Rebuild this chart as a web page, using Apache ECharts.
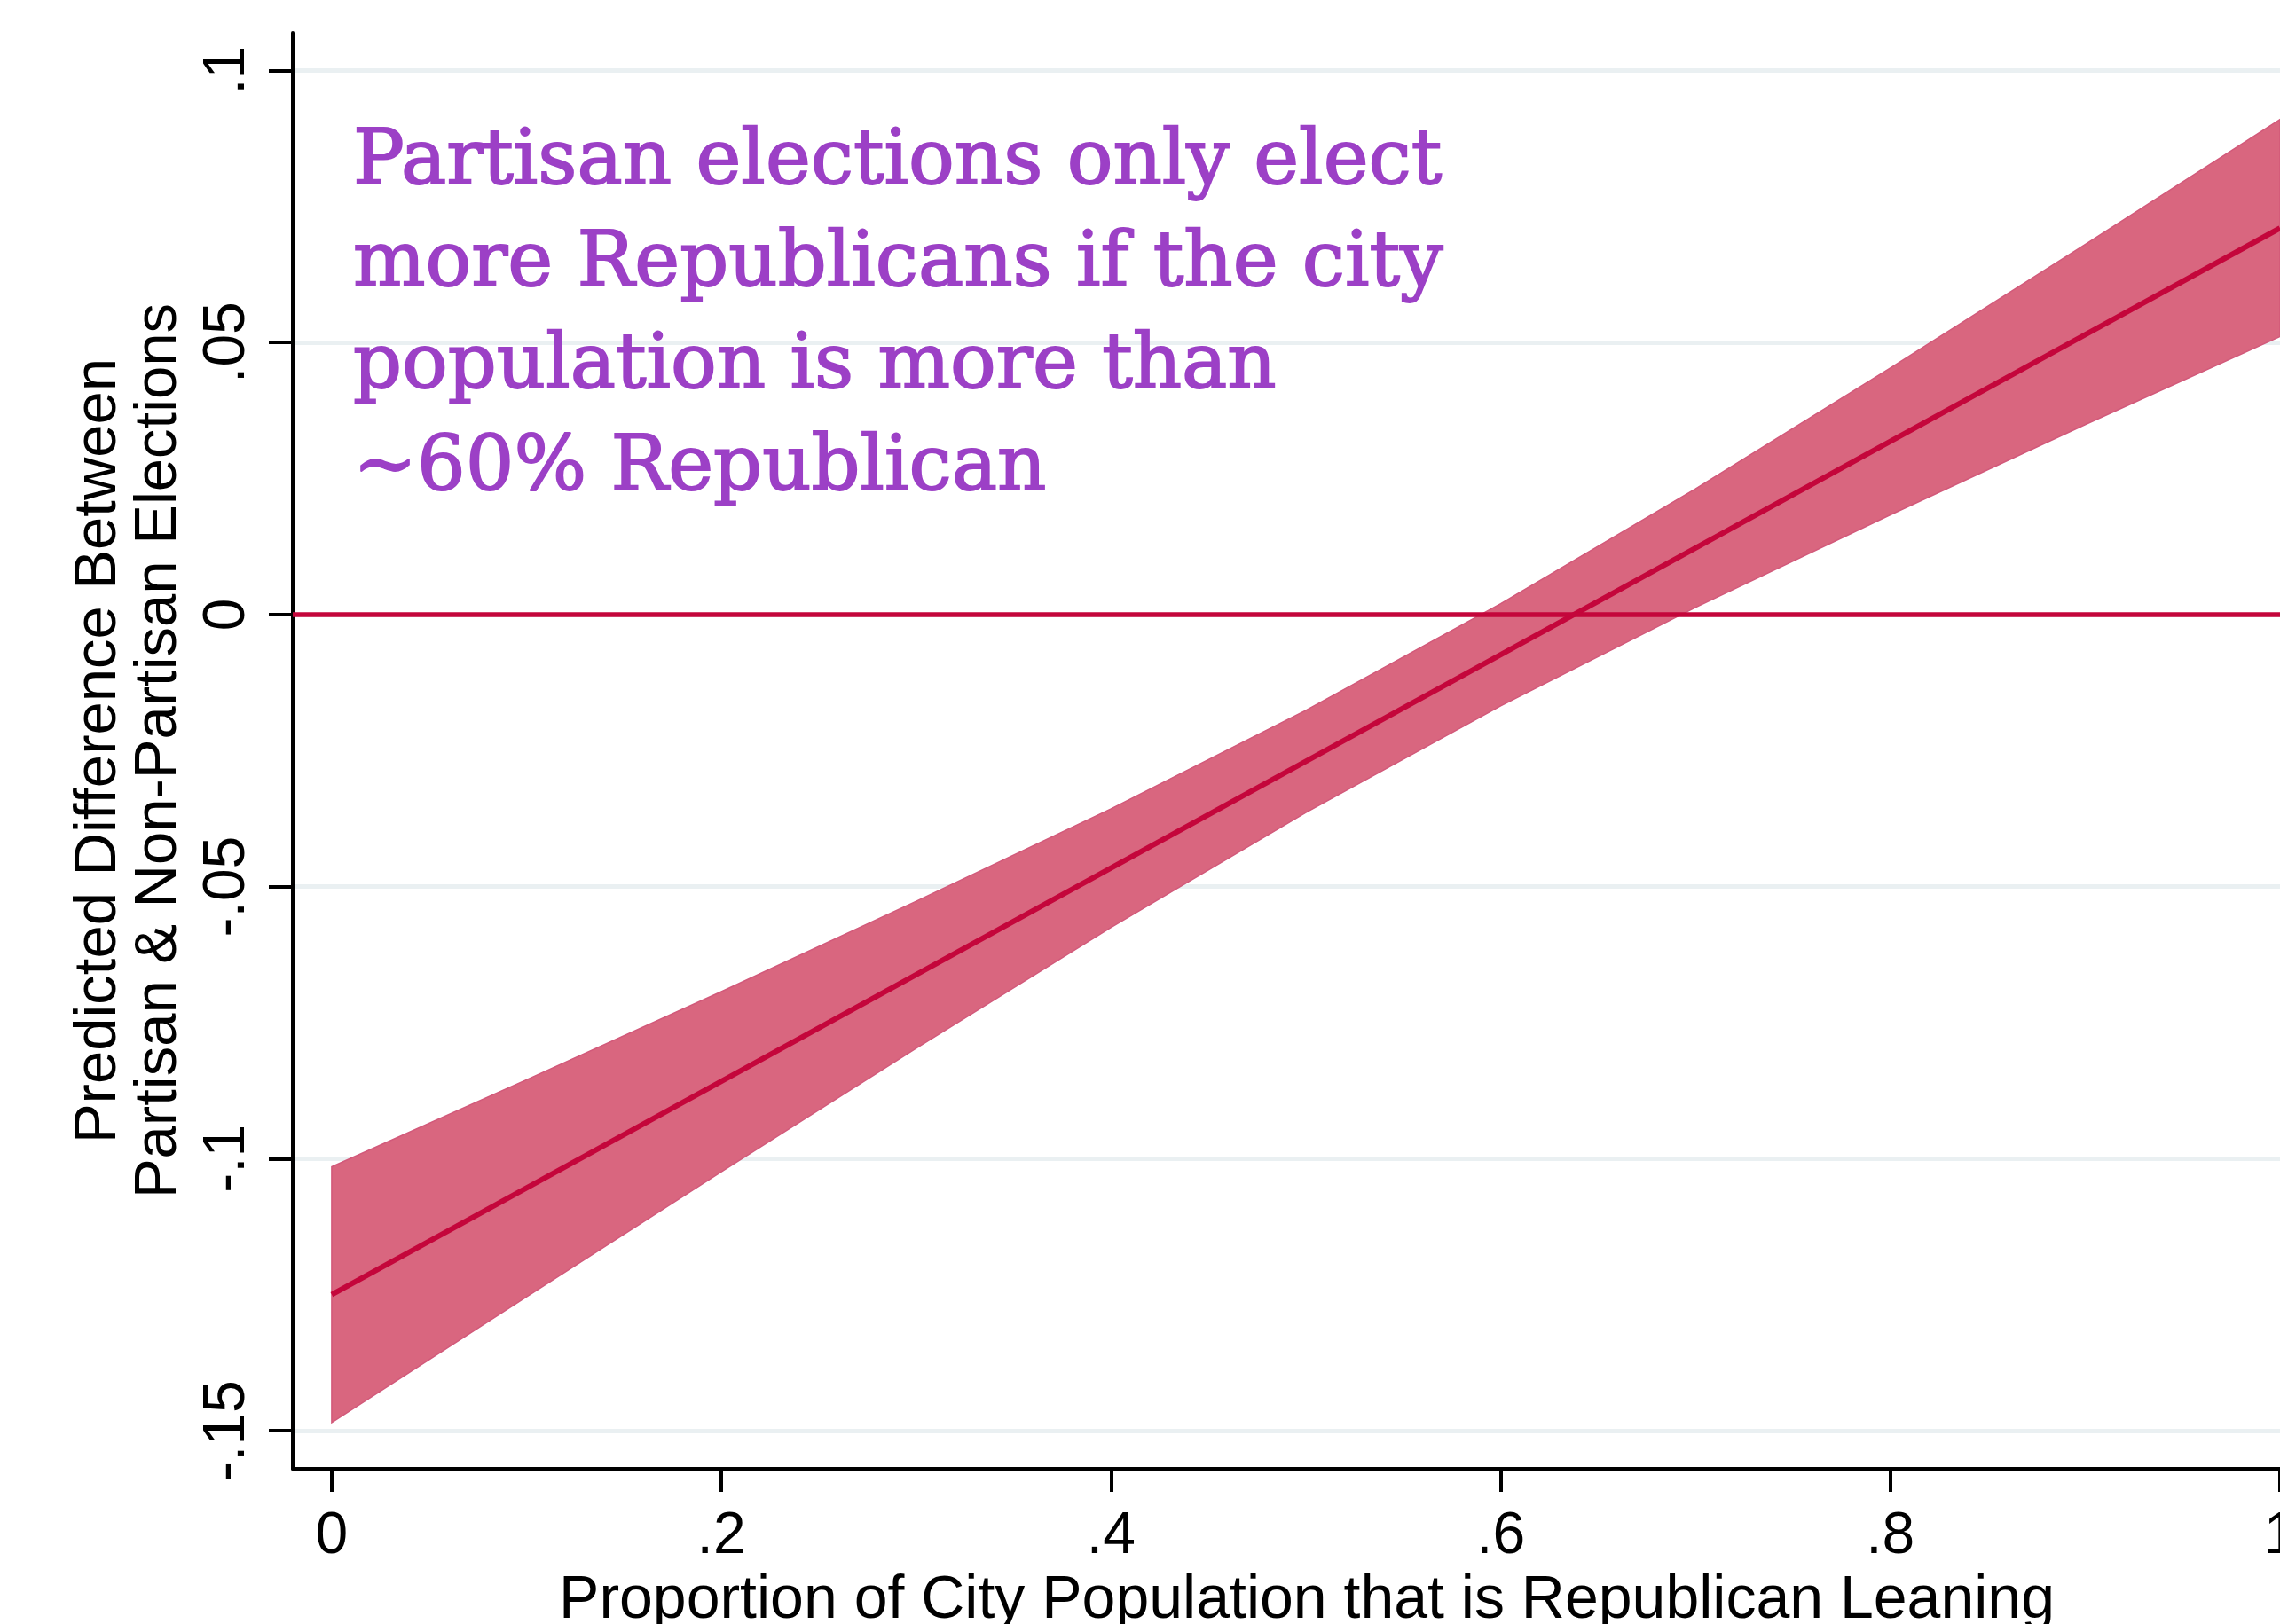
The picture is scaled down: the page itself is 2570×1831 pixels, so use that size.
<!DOCTYPE html>
<html><head><meta charset="utf-8">
<script src="https://cdn.jsdelivr.net/npm/echarts@6/dist/echarts.min.js"></script>
<style>html,body{margin:0;padding:0;background:#fff;overflow:hidden}#c{width:2570px;height:1831px}</style>
</head><body><div id="c"></div>
<script>
// ---- data ----
const xValues   = [0, 0.1, 0.2, 0.3, 0.4, 0.5, 0.6, 0.7, 0.8, 0.9, 1.0];
const predicted = [-0.1250, -0.1054, -0.0858, -0.0662, -0.0466, -0.0270, -0.0074, 0.0122, 0.0318, 0.0514, 0.0710];
const lowerCI   = [-0.1485, -0.1254, -0.1024, -0.0797, -0.0575, -0.0364, -0.0168, 0.0013, 0.0183, 0.0349, 0.0511];
const upperCI   = [-0.1015, -0.0855, -0.0693, -0.0527, -0.0357, -0.0176, 0.0020, 0.0231, 0.0453, 0.0680, 0.0910];
const xTicks      = [0, 0.2, 0.4, 0.6, 0.8, 1];
const xTickLabels = ['0', '.2', '.4', '.6', '.8', '1'];
const yTicks      = [-0.15, -0.1, -0.05, 0, 0.05, 0.1];
const yTickLabels = ['-.15', '-.1', '-.05', '0', '.05', '.1'];
const referenceY  = [0];
const xTitle = 'Proportion of City Population that is Republican Leaning';
const yTitleLines = ['Predicted Difference Between', 'Partisan & Non-Partisan Elections'];
const annotationLines = ['Partisan elections only elect', 'more Republicans if the city', 'population is more than', '~60% Republican'];

const lookup = (ticks, labels) => v => {
  const i = ticks.findIndex(t => Math.abs(t - v) < 1e-9);
  return i >= 0 ? labels[i] : '';
};

const chart = echarts.init(document.getElementById('c'), null, {renderer: 'canvas'});
const FONT = '"Liberation Sans", Arial, Helvetica, sans-serif';
const CRAN = '#c4063b';

chart.setOption({
  animation: false,
  backgroundColor: '#ffffff',
  grid: {left: 330, top: 37, right: 0, bottom: 175, containLabel: false, outerBoundsMode: 'none'},
  xAxis: {
    type: 'value', min: -0.02, max: 1.0,
    axisLine: {show: true, onZero: false, lineStyle: {color: '#000', width: 4}},
    axisTick: {show: true, length: 26, lineStyle: {color: '#000', width: 4}, customValues: xTicks},
    axisLabel: {customValues: xTicks, formatter: lookup(xTicks, xTickLabels), color: '#000', fontFamily: FONT, fontSize: 66, margin: 44, showMaxLabel: true, hideOverlap: false},
    splitLine: {show: false},
    name: xTitle, nameLocation: 'middle', nameGap: 113,
    nameTextStyle: {color: '#000', fontFamily: FONT, fontSize: 68, padding: [0, 0, 0, 46]}
  },
  yAxis: {
    type: 'value', min: -0.157, max: 0.1069,
    axisLine: {show: true, onZero: false, lineStyle: {color: '#000', width: 4}},
    axisTick: {show: true, length: 27, lineStyle: {color: '#000', width: 4}, customValues: yTicks},
    axisLabel: {customValues: yTicks, formatter: lookup(yTicks, yTickLabels), rotate: 90, color: '#000', fontFamily: FONT, fontSize: 66, margin: 40},
    splitLine: {show: true, lineStyle: {color: '#eaf0f2', width: 5}},
    name: yTitleLines.join('\n'), nameLocation: 'middle', nameRotate: 90, nameGap: 116,
    nameTextStyle: {color: '#000', fontFamily: FONT, fontSize: 67, lineHeight: 68, align: 'center'}
  },
  graphic: [{
    type: 'text', left: 397, top: 127, z: 100,
    style: {text: annotationLines.join('\n'), font: '86px "DejaVu Serif", serif', fill: '#9c40c6', stroke: '#9c40c6', lineWidth: 1.8, lineHeight: 115}
  }],
  series: [
    {
      type: 'line', data: [], silent: true,
      markLine: {silent: true, symbol: 'none', label: {show: false},
        lineStyle: {color: CRAN, width: 5.5, type: 'solid'},
        data: referenceY.map(v => ({yAxis: v}))},
      z: 1
    },
    {
      type: 'custom', silent: true, z: 2,
      data: [[0, 0]],
      renderItem: (params, api) => {
        if (params.dataIndex !== 0) return;
        const pts = [];
        for (let i = 0; i < xValues.length; i++) pts.push(api.coord([xValues[i], upperCI[i]]));
        for (let i = xValues.length - 1; i >= 0; i--) pts.push(api.coord([xValues[i], lowerCI[i]]));
        return {type: 'polygon', shape: {points: pts}, style: {fill: '#d9667f', stroke: '#d2597a', lineWidth: 1.5}};
      }
    },
    {
      type: 'line', silent: true, z: 3, symbol: 'none',
      data: xValues.map((x, i) => [x, predicted[i]]),
      lineStyle: {color: CRAN, width: 6}
    }
  ]
});
</script></body></html>
